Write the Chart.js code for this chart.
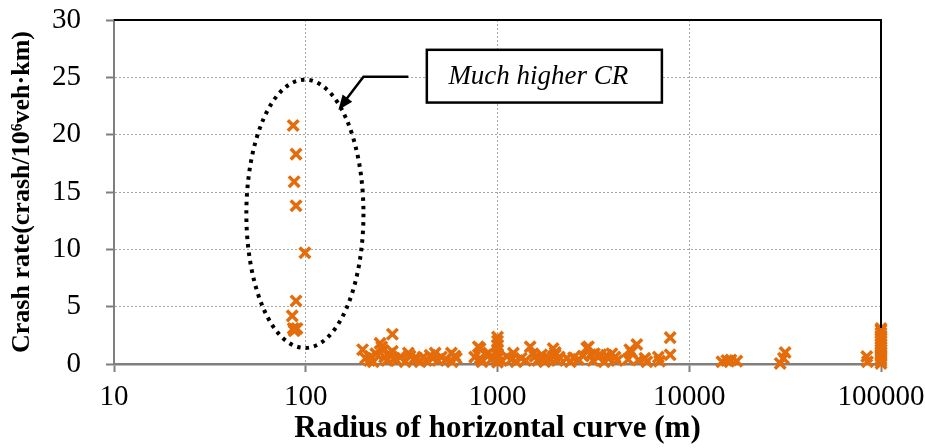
<!DOCTYPE html>
<html>
<head>
<meta charset="utf-8">
<script src="https://cdn.jsdelivr.net/npm/chart.js@4"></script>
<style>
	html, body { margin: 0; padding: 0; background: #fff; }
	canvas { display: block; }
</style>
</head>
<body>
<canvas id="crChart" width="925" height="448"></canvas>
<script>
// curve radius (m) and crash rate (crash/10^6 veh.km) for each segment
var radius = [
	86, 89, 87, 89, 99, 89, 85, 86, 88, 90, 87,
	198, 205, 215, 218, 225, 232, 244, 249, 253, 258, 265, 272, 283, 283, 290, 298,
	310, 330, 343, 350, 365, 380, 395, 410, 425, 445, 460, 473, 490, 510, 540, 575,
	580, 600, 610, 760, 794, 811, 811, 830, 870, 900, 930,
	1000, 1000, 1000, 1000, 1000, 1000, 1000, 1050, 1120, 1180, 1210, 1250, 1330,
	1400, 1480, 1530, 1570, 1620, 1660, 1700, 1760, 1820, 1900, 1950, 2000, 2000,
	2050, 2100, 2300, 2400, 2490, 2640, 2800, 2920, 2980, 3050, 3150, 3200, 3350,
	3450, 3600, 3700, 3800, 3950, 4100, 4200, 4800, 4900, 5000, 5330, 5430, 5870,
	6010, 6900, 7000, 7950, 7950,
	14800, 15700, 16500, 17700, 29800, 31000, 31600, 84300, 85000,
	100000, 100000, 100000, 100000, 100000, 100000, 100000, 100000,
	100000, 100000, 100000, 100000, 100000, 100000, 100000
];
var crashRate = [
	20.8, 18.3, 15.9, 13.8, 9.7, 5.5, 4.2, 3.1, 3.0, 3.1, 2.9,
	1.25, 0.5, 0.3, 0.65, 0.2, 0.9, 1.8, 1.5, 1.2, 0.6, 0.3, 0.9, 2.6, 1.1, 0.5, 0.3,
	0.6, 0.2, 0.95, 0.7, 0.4, 0.5, 0.2, 0.6, 0.3, 0.75, 0.5, 0.95, 0.3, 0.6, 0.4, 0.95,
	0.2, 0.7, 0.5, 0.6, 1.5, 1.35, 0.5, 0.2, 0.8, 0.95, 0.4,
	2.35, 2.0, 1.6, 1.2, 0.8, 0.5, 0.15, 0.3, 0.65, 0.4, 0.95, 0.2, 0.5,
	0.3, 1.5, 0.9, 0.65, 0.3, 0.5, 0.8, 0.2, 0.6, 0.4, 1.35, 0.8, 1.0,
	0.3, 0.6, 0.5, 0.2, 0.55, 0.4, 0.7, 1.4, 1.5, 0.8, 0.3, 0.9, 0.6,
	0.8, 0.2, 0.75, 0.5, 0.9, 0.6, 0.3, 0.4, 1.25, 1.05, 1.7, 0.35, 0.5,
	0.2, 0.6, 0.25, 2.3, 0.8,
	0.2, 0.3, 0.35, 0.25, 0.05, 0.5, 1.0, 0.65, 0.2,
	0.05, 0.25, 0.45, 0.65, 0.85, 1.05, 1.25, 1.45,
	1.7, 1.95, 2.2, 2.45, 2.7, 2.95, 3.1
];
var xTicks = [10, 100, 1000, 10000, 100000];

// dotted ring around the small-radius group, and the note box with its arrow (axis units)
var ringX = [49, 200], ringY = [1.4, 24.8];
var noteX = [428, 7200], noteY = [22.8, 27.4];
var arrowPts = [[343, 25.05], [200, 25.05], [148, 22.15]];
var noteText = "Much higher CR";

var points = radius.map(function(r, i){
	return {x: r, y: crashRate[i]};
});

var notes = {
	id: "notes",
	afterDraw: function(chart){
		var ctx = chart.ctx, a = chart.chartArea;
		var x = chart.scales.x, y = chart.scales.y;
		ctx.save();

		// black top and right edges of the plot frame
		ctx.strokeStyle = "#000";
		ctx.lineWidth = 2;
		ctx.beginPath();
		ctx.moveTo(a.left, a.top);
		ctx.lineTo(a.right, a.top);
		ctx.lineTo(a.right, a.bottom - 36);
		ctx.stroke();

		// ring
		var l = x.getPixelForValue(ringX[0]), r = x.getPixelForValue(ringX[1]);
		var t = y.getPixelForValue(ringY[1]), b = y.getPixelForValue(ringY[0]);
		ctx.lineWidth = 4;
		ctx.setLineDash([3.5, 5]);
		ctx.beginPath();
		ctx.ellipse((l + r) / 2, (t + b) / 2, (r - l) / 2, (b - t) / 2, 0, 0, Math.PI * 2);
		ctx.stroke();
		ctx.setLineDash([]);

		// arrow
		var p = arrowPts.map(function(q){
			return [x.getPixelForValue(q[0]), y.getPixelForValue(q[1])];
		});
		ctx.lineWidth = 2.5;
		ctx.beginPath();
		ctx.moveTo(p[0][0], p[0][1]);
		ctx.lineTo(p[1][0], p[1][1]);
		ctx.lineTo(p[2][0] + 5, p[2][1] - 7);
		ctx.stroke();
		var ang = Math.atan2(p[2][1] - p[1][1], p[2][0] - p[1][0]);
		ctx.fillStyle = "#000";
		ctx.beginPath();
		ctx.moveTo(p[2][0], p[2][1]);
		ctx.lineTo(p[2][0] - 15 * Math.cos(ang) + 6 * Math.sin(ang), p[2][1] - 15 * Math.sin(ang) - 6 * Math.cos(ang));
		ctx.lineTo(p[2][0] - 15 * Math.cos(ang) - 6 * Math.sin(ang), p[2][1] - 15 * Math.sin(ang) + 6 * Math.cos(ang));
		ctx.closePath();
		ctx.fill();

		// note box
		var bl = x.getPixelForValue(noteX[0]), br = x.getPixelForValue(noteX[1]);
		var bt = y.getPixelForValue(noteY[1]), bb = y.getPixelForValue(noteY[0]);
		ctx.fillStyle = "#fff";
		ctx.fillRect(bl, bt, br - bl, bb - bt);
		ctx.lineWidth = 2.5;
		ctx.strokeRect(bl, bt, br - bl, bb - bt);
		ctx.fillStyle = "#000";
		ctx.font = "italic 27px 'Liberation Serif'";
		ctx.textAlign = "center";
		ctx.textBaseline = "middle";
		ctx.fillText(noteText, (bl + br) / 2 - 6, (bt + bb) / 2 + 1);
		ctx.restore();
	}
};

new Chart("crChart", {
	type: "scatter",
	data: {
		datasets: [{
			data: points,
			pointStyle: "crossRot",
			pointRadius: 7.5,
			pointHoverRadius: 7.5,
			borderWidth: 3.5,
			borderColor: "#E46C0A",
			backgroundColor: "#E46C0A",
			clip: false
		}]
	},
	options: {
		responsive: false,
		animation: false,
		events: [],
		layout: { padding: { top: 20, right: 44, left: 0, bottom: 0 } },
		plugins: {
			legend: { display: false },
			tooltip: { enabled: false }
		},
		scales: {
			x: {
				type: "logarithmic",
				min: 10,
				max: 100000,
				afterBuildTicks: function(scale){
					scale.ticks = xTicks.map(function(v){ return {value: v}; });
				},
				afterFit: function(scale){
					scale.height = 84;
					scale.paddingLeft = 0;
					scale.paddingRight = 0;
				},
				ticks: {
					color: "#000",
					padding: 8,
					maxRotation: 0,
					font: { family: "'Liberation Serif'", size: 29 },
					callback: function(v){ return String(v); }
				},
				grid: {
					color: "#a6a6a6",
					lineWidth: 1,
					tickLength: 8,
					tickColor: "#7f7f7f",
					tickWidth: 2
				},
				border: { color: "#7f7f7f", width: 2.5, dash: [2, 2] },
				title: {
					display: true,
					text: "Radius of horizontal curve (m)",
					color: "#000",
					font: { family: "'Liberation Serif'", size: 31, weight: "bold" },
					padding: { top: 0, bottom: 0 }
				}
			},
			y: {
				min: 0,
				max: 30,
				afterFit: function(scale){
					scale.width = 114;
					scale.paddingTop = 0;
					scale.paddingBottom = 0;
				},
				ticks: {
					stepSize: 5,
					color: "#000",
					padding: 25,
					font: { family: "'Liberation Serif'", size: 29 }
				},
				grid: {
					color: "#a6a6a6",
					lineWidth: 1,
					tickLength: 8,
					tickColor: "#7f7f7f",
					tickWidth: 2
				},
				border: { color: "#7f7f7f", width: 2, dash: [2, 2] },
				title: {
					display: true,
					text: "Crash rate(crash/10\u2076veh\u00b7km)",
					color: "#000",
					font: { family: "'Liberation Serif'", size: 26, weight: "bold" },
					padding: { top: 7, bottom: 0 }
				}
			}
		}
	},
	plugins: [notes]
});
</script>
</body>
</html>
